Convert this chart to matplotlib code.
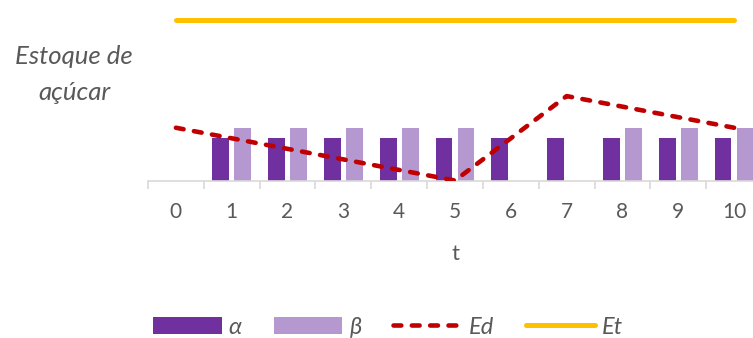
import numpy as np
import matplotlib
matplotlib.use("Agg")
import matplotlib.pyplot as plt
from matplotlib.ticker import FixedLocator

plt.rcParams['font.family'] = ['Lato', 'DejaVu Sans']

t = list(range(11))
alpha = [np.nan, 4, 4, 4, 4, 4, 4, 4, 4, 4, 4]
beta = [np.nan, 5, 5, 5, 5, 5, np.nan, np.nan, 5, 5, 5]
Ed = [5, 4, 3, 2, 1, 0, 4, 8, 7, 6, 5]
Et = [15.2] * 11
tick_labels = [str(i) for i in t]

GRAY = '#595959'
fig = plt.figure(figsize=(7.53, 3.38), dpi=100)
W, H = 753, 338
x0, x1 = 148, 762
ybase, unit = 180.5, 10.55
ymax = 16.5
ax = fig.add_axes([x0 / W, (H - ybase) / H, (x1 - x0) / W, ymax * unit / H])

x = np.array(t)
off, bw = 0.197, 0.30
b1 = ax.bar(x - off, alpha, width=bw, color='#7030A0', label='α', zorder=2)
b2 = ax.bar(x + off, beta, width=bw, color='#B598CF', label='β', zorder=2)
l1, = ax.plot(x, Ed, color='#C00000', lw=3.3, dashes=(1.7, 2.3), dash_capstyle='round',
              label='Ed', zorder=3)
l2, = ax.plot(x, Et, color='#FFC000', lw=3.6, solid_capstyle='round', label='Et', zorder=3)

ax.set_xlim(-0.5, 10.5)
ax.set_ylim(0, ymax)
for s in ['top', 'right', 'left']:
    ax.spines[s].set_visible(False)
ax.spines['bottom'].set_color('#D9D9D9')
ax.spines['bottom'].set_linewidth(1.2)
ax.set_yticks([])
ax.set_xticks(x)
ax.set_xticklabels(tick_labels, fontsize=15, color=GRAY)
ax.tick_params(axis='x', which='major', length=0, pad=15.5)
ax.xaxis.set_minor_locator(FixedLocator(np.arange(-0.5, 11, 1)))
ax.tick_params(axis='x', which='minor', length=5.5, width=1.2, color='#D9D9D9')
ax.set_xlabel('t', fontsize=16, color=GRAY, labelpad=16)

fig.text(74 / W, 1 - 57 / H, 'Estoque de', fontsize=18.5, style='italic', color=GRAY,
         ha='center', va='center')
fig.text(74 / W, 1 - 93 / H, 'açúcar', fontsize=18.5, style='italic', color=GRAY,
         ha='center', va='center')

leg = fig.legend([b1, b2, l1, l2], ['α', 'β', 'Ed', 'Et'], loc='center',
                 bbox_to_anchor=(388 / W, 1 - 327 / H), ncol=4,
                 frameon=False, fontsize=17, handlelength=2.9, handleheight=0.7,
                 handletextpad=0.3, columnspacing=1.35)
for txt in leg.get_texts():
    txt.set_color(GRAY)
    txt.set_style('italic')

fig.savefig('out.png', dpi=100)
